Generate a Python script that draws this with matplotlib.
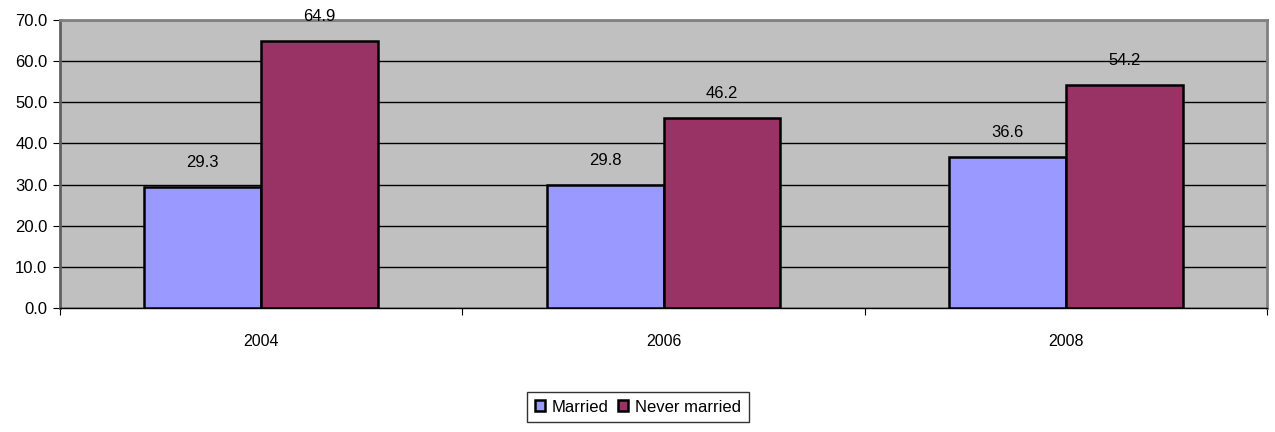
import matplotlib
matplotlib.use("Agg")
import matplotlib.pyplot as plt
import numpy as np

categories = ["2004", "2006", "2008"]
married = [29.3, 29.8, 36.6]
never_married = [64.9, 46.2, 54.2]
series_names = ["Married", "Never married"]
yticks = [0, 10, 20, 30, 40, 50, 60, 70]

plt.rcParams['font.family'] = ['Liberation Sans', 'DejaVu Sans']

fig = plt.figure(figsize=(12.75, 4.32), dpi=100)
ax = fig.add_axes([60/1275, 1-308/432, (1267-60)/1275, (308-20)/432])
ax.set_facecolor('#C0C0C0')

x = np.arange(len(categories))
w = 0.29
b1 = ax.bar(x - w/2, married, w, color='#9999FF', edgecolor='black', linewidth=1.8, label=series_names[0], zorder=3)
b2 = ax.bar(x + w/2, never_married, w, color='#993366', edgecolor='black', linewidth=1.8, label=series_names[1], zorder=3)

for bars, vals in ((b1, married), (b2, never_married)):
    for r, v in zip(bars, vals):
        ax.annotate(f"{v:.1f}", (r.get_x() + r.get_width()/2, v), xytext=(0, 12.5),
                    textcoords='offset points', ha='center', va='bottom', fontsize=12)

ax.set_xlim(-0.5, 2.5)
ax.set_ylim(0, 70)
ax.set_yticks(yticks)
ax.set_yticklabels([f"{t:.1f}" for t in yticks], fontsize=12)
ax.yaxis.grid(True, color='black', linewidth=1.0, zorder=1)
ax.set_axisbelow(True)

ax.set_xticks([-0.5, 0.5, 1.5, 2.5])
ax.set_xticklabels([])
ax.set_xticks(x, minor=True)
ax.set_xticklabels(categories, minor=True, fontsize=11.5)
ax.tick_params(axis='x', which='minor', length=0, pad=19)
ax.tick_params(axis='x', which='major', length=5, direction='out', color='black')
ax.tick_params(axis='y', length=5, direction='out', color='black', pad=4)

ax.spines['top'].set_color('#808080')
ax.spines['right'].set_color('#808080')
ax.spines['top'].set_linewidth(2)
ax.spines['right'].set_linewidth(2)
ax.spines['left'].set_color('#606060')
ax.spines['left'].set_linewidth(2)
ax.spines['bottom'].set_color('black')
ax.spines['bottom'].set_linewidth(1)

leg = fig.legend(handles=[b1, b2], loc='center', bbox_to_anchor=(638/1275, 1-407/432),
                 ncol=2, fontsize=12, frameon=True, fancybox=False, edgecolor='black',
                 handlelength=0.6, handleheight=0.6, handletextpad=0.4, columnspacing=0.6,
                 borderpad=0.45, borderaxespad=0)
leg.get_frame().set_linewidth(1.0)

fig.savefig("out.png", dpi=100)
